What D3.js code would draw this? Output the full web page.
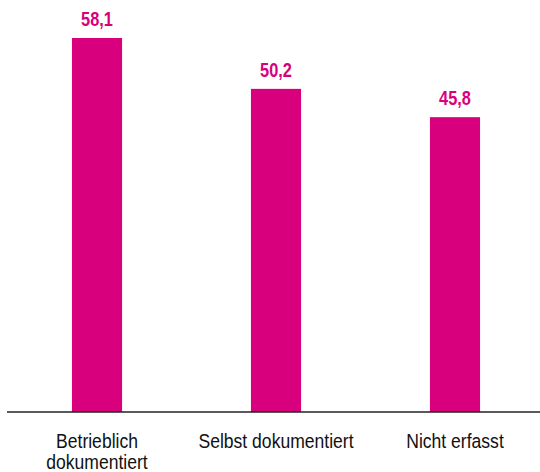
<!DOCTYPE html>
<html>
<head>
<meta charset="utf-8">
<script src="https://cdn.jsdelivr.net/npm/d3@7"></script>
<style>
  body { margin: 0; background: #fff; }
  text { font-family: "Liberation Sans", Arial, sans-serif; }
</style>
</head>
<body>
<div id="chart"></div>
<script>
let categories = ["Betrieblich dokumentiert", "Selbst dokumentiert", "Nicht erfasst"];
let values = [58.1, 50.2, 45.8];
let valueLabels = ["58,1", "50,2", "45,8"];
// category labels, wrapped where the original wraps
let labelLines = [["Betrieblich", "dokumentiert"], ["Selbst dokumentiert"], ["Nicht erfasst"]];

let width = 540,
height = 472;

let svg = d3.select("#chart")
.append("svg")
.attr("width", width)
.attr("height", height);

let x = d3.scaleBand()
.domain(categories)
.range([7.5, 544.5])
.paddingInner(0.72)
.paddingOuter(0.36);

let y = d3.scaleLinear()
.domain([0, 58.1])
.range([412, 38]);

let cx = d => x(d) + x.bandwidth() / 2;

svg.selectAll(".bar")
.data(values)
.enter().append("rect")
.classed("bar", true)
.attr("x", (d, i) => x(categories[i]))
.attr("y", d => y(d))
.attr("width", x.bandwidth())
.attr("height", d => y(0) - y(d))
.attr("fill", "#d9007e");

// narrow look: the original uses a condensed face, so squeeze horizontally
svg.selectAll(".val")
.data(values)
.enter().append("text")
.classed("val", true)
.attr("transform", (d, i) => "translate(" + cx(categories[i]) + "," + (y(d) - 12) + ") scale(0.84,1)")
.attr("text-anchor", "middle")
.attr("font-weight", "bold")
.attr("font-size", 19.5)
.attr("fill", "#d9007e")
.text((d, i) => valueLabels[i]);

// baseline
svg.append("line")
.attr("x1", 7).attr("x2", width)
.attr("y1", y(0)).attr("y2", y(0))
.attr("stroke", "#222")
.attr("stroke-width", 1.5);

svg.selectAll(".cat")
.data(categories)
.enter().append("text")
.classed("cat", true)
.attr("transform", d => "translate(" + cx(d) + ",448) scale(0.9,1)")
.attr("text-anchor", "middle")
.attr("font-size", 19.5)
.attr("fill", "#111")
.each(function(d, i) {
    d3.select(this).selectAll("tspan")
    .data(labelLines[i])
    .enter().append("tspan")
    .attr("x", 0)
    .attr("dy", (t, j) => j ? 21 : 0)
    .text(t => t);
});
</script>
</body>
</html>
